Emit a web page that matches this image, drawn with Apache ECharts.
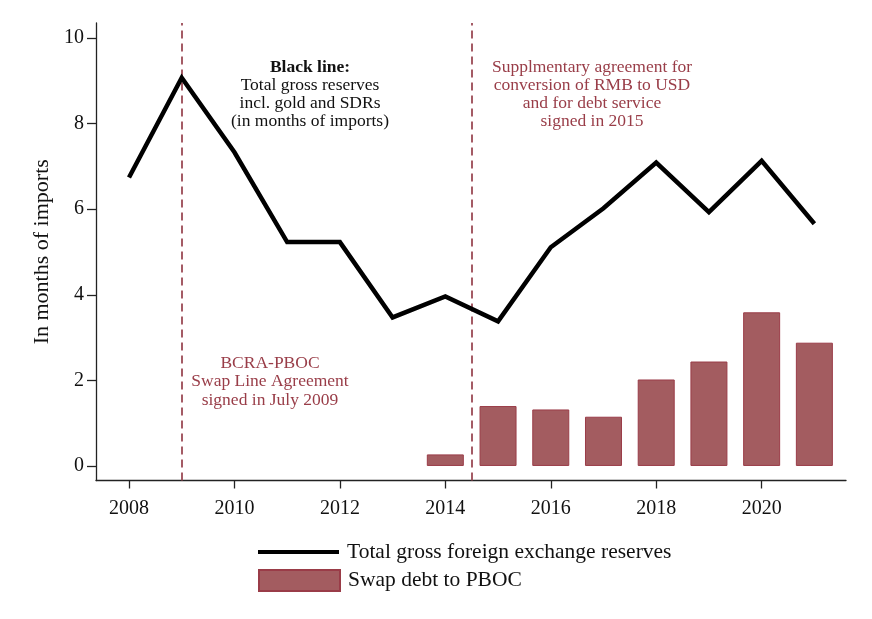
<!DOCTYPE html>
<html>
<head>
<meta charset="utf-8">
<script src="https://cdn.jsdelivr.net/npm/echarts@6/dist/echarts.min.js"></script>
<style>
html,body{margin:0;padding:0;background:#fff;}
#c{width:872px;height:619px;}
</style>
</head>
<body>
<div id="c"></div>
<script>
var years = [2008, 2009, 2010, 2011, 2012, 2013, 2014, 2015, 2016, 2017, 2018, 2019, 2020, 2021];
var reserves = [6.74, 9.07, 7.33, 5.23, 5.23, 3.47, 3.96, 3.38, 5.11, 6.02, 7.09, 5.93, 7.13, 5.66];
var swapYears = [2014, 2015, 2016, 2017, 2018, 2019, 2020, 2021];
var swapDebt = [0.27, 1.40, 1.32, 1.15, 2.02, 2.44, 3.59, 2.88];
var eventYears = [2009, 2014.5];
var xTicks = [2008, 2010, 2012, 2014, 2016, 2018, 2020];
var yTicks = [0, 2, 4, 6, 8, 10];

var FONT = '"Liberation Serif", "Times New Roman", serif';
var RED = '#993d48';
var LINE_NAME = 'Total gross foreign exchange reserves';
var BAR_NAME = 'Swap debt to PBOC';

var chart = echarts.init(document.getElementById('c'));
chart.setOption({
  animation: false,
  backgroundColor: '#fff',
  textStyle: { fontFamily: FONT },
  grid: { left: 96, right: 26, top: 23, bottom: 138.5, containLabel: false },
  xAxis: {
    type: 'value',
    min: 2007.374,
    max: 2021.6,
    splitLine: { show: false },
    axisLine: { onZero: false, lineStyle: { color: '#222', width: 1.3 } },
    axisTick: { show: true, length: 8, customValues: xTicks, lineStyle: { color: '#222', width: 1.3 } },
    axisLabel: { customValues: xTicks, color: '#111', fontSize: 20, fontFamily: FONT, margin: 18,
      formatter: function (v) { return String(v); } }
  },
  yAxis: {
    type: 'value',
    min: -0.34,
    max: 10.35,
    name: 'In months of imports',
    nameLocation: 'middle',
    nameRotate: 90,
    nameGap: 43,
    nameTextStyle: { color: '#111', fontSize: 22, fontFamily: FONT },
    splitLine: { show: false },
    axisLine: { show: true, onZero: false, lineStyle: { color: '#222', width: 1.3 } },
    axisTick: { show: true, length: 9, customValues: yTicks, lineStyle: { color: '#222', width: 1.3 } },
    axisLabel: { customValues: yTicks, color: '#111', fontSize: 20, fontFamily: FONT, margin: 12 }
  },
  legend: [
    {
      orient: 'vertical',
      left: 253,
      top: 536,
      itemWidth: 81,
      itemHeight: 4,
      selectedMode: false,
      icon: 'rect',
      itemStyle: { color: '#000', borderWidth: 0 },
      textStyle: { fontSize: 21.5, fontFamily: FONT, color: '#111', padding: [0, 0, 0, 3] },
      data: [LINE_NAME]
    },
    {
      orient: 'vertical',
      left: 253,
      top: 564,
      itemWidth: 81,
      itemHeight: 21,
      selectedMode: false,
      icon: 'rect',
      textStyle: { fontSize: 21.5, fontFamily: FONT, color: '#111', padding: [0, 0, 0, 3] },
      data: [BAR_NAME]
    }
  ],
  series: [
    {
      name: BAR_NAME,
      type: 'bar',
      barWidth: 37,
      itemStyle: { color: '#a35c60', borderColor: '#9a3c48', borderWidth: 1 },
      data: swapYears.map(function (y, i) { return [y, swapDebt[i]]; }),
      markLine: {
        silent: true,
        symbol: 'none',
        label: { show: false },
        lineStyle: { color: '#9b4a55', type: [8, 5], width: 1.8 },
        data: eventYears.map(function (y) { return { xAxis: y }; })
      }
    },
    {
      name: LINE_NAME,
      type: 'line',
      symbol: 'none',
      lineStyle: { color: '#000', width: 4.5, join: 'miter' },
      itemStyle: { color: '#000' },
      data: years.map(function (y, i) { return [y, reserves[i]]; }),
      z: 5
    }
  ],
  graphic: [
    {
      type: 'text',
      style: {
        x: 310, y: 58, align: 'center', verticalAlign: 'top',
        text: '{b|Black line:}\nTotal gross reserves\nincl. gold and SDRs\n(in months of imports)',
        font: '17.5px ' + FONT, fill: '#111', lineHeight: 18,
        rich: { b: { fontWeight: 'bold', fontSize: 17.5, fontFamily: FONT, lineHeight: 18, fill: '#111' } }
      }
    },
    {
      type: 'text',
      style: {
        x: 592, y: 58, align: 'center', verticalAlign: 'top',
        text: 'Supplmentary agreement for\nconversion of RMB to USD\nand for debt service\nsigned in 2015',
        font: '17.5px ' + FONT, fill: RED, lineHeight: 18
      }
    },
    {
      type: 'text',
      style: {
        x: 270, y: 354, align: 'center', verticalAlign: 'top',
        text: 'BCRA-PBOC\nSwap Line Agreement\nsigned in July 2009',
        font: '17.5px ' + FONT, fill: RED, lineHeight: 18.5
      }
    }
  ]
});
</script>
</body>
</html>
